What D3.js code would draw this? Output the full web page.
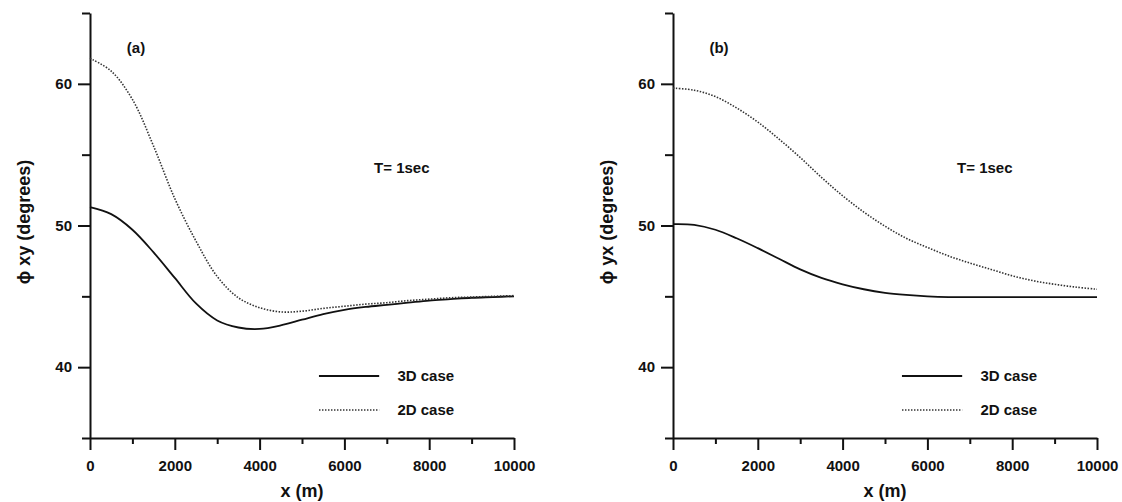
<!DOCTYPE html>
<html>
<head>
<meta charset="utf-8">
<script src="https://cdn.jsdelivr.net/npm/d3@7"></script>
<style>
  body { margin: 0; background: #fff; }
  text { font-family: "Liberation Sans", Arial, sans-serif; fill: #111; }
  .axis path, .axis line { stroke: #111; stroke-width: 2; }
  .axis text { font-size: 15px; font-weight: bold; }
</style>
</head>
<body>
<div id="chart"></div>
<script>
// distance along profile (m), both panels
var xDist = [0, 500, 1000, 1500, 2000, 2500, 3000, 3500, 4000, 4500, 5000, 5500, 6000, 6500, 7000, 7500, 8000, 8500, 9000, 9500, 10000];

// panel (a): phi xy
var phiXY3D = [51.3, 50.8, 49.7, 48.1, 46.3, 44.5, 43.3, 42.8, 42.7, 42.95, 43.35, 43.75, 44.05, 44.25, 44.4, 44.55, 44.7, 44.8, 44.9, 44.95, 45.0];
var phiXY2D = [61.8, 60.9, 58.9, 55.6, 51.9, 48.9, 46.4, 44.9, 44.2, 43.9, 43.95, 44.15, 44.3, 44.45, 44.55, 44.7, 44.8, 44.9, 44.95, 45.0, 45.05];

// panel (b): phi yx
var phiYX3D = [50.1, 50.05, 49.7, 49.1, 48.4, 47.65, 46.9, 46.3, 45.85, 45.5, 45.25, 45.1, 45.0, 44.95, 44.95, 44.95, 44.95, 44.95, 44.95, 44.95, 44.95];
var phiYX2D = [59.7, 59.55, 59.1, 58.3, 57.3, 56.1, 54.8, 53.4, 52.1, 50.95, 49.95, 49.1, 48.45, 47.85, 47.35, 46.9, 46.45, 46.1, 45.85, 45.65, 45.5];

var xTicks = [0, 2000, 4000, 6000, 8000, 10000];
var xMinor = [1000, 3000, 5000, 7000, 9000];
var yTicks = [40, 50, 60];
var yMinor = [35, 45, 55, 65];
var legendNames = ["3D case", "2D case"];

var svgWidth = 1122;
var svgHeight = 502;

var svg = d3.select("#chart")
    .append("svg")
    .attr("width", svgWidth)
    .attr("height", svgHeight);

var y = d3.scaleLinear()
    .domain([35, 65])
    .range([438, 13]);

function drawPanel(left, s3d, s2d, tag, yLabel) {
    var g = svg.append("g");
    var x = d3.scaleLinear()
        .domain([0, 10000])
        .range([left, left + 424]);
    var y0 = x(0);

    // minor ticks first
    g.append("g")
        .attr("class", "axis")
        .attr("transform", `translate(0, ${y(35)})`)
        .call(d3.axisBottom(x).tickValues(xMinor).tickSize(6).tickSizeOuter(0).tickFormat(""))
        .select(".domain").remove();
    g.append("g")
        .attr("class", "axis")
        .attr("transform", `translate(${y0}, 0)`)
        .call(d3.axisLeft(y).tickValues(yMinor).tickSize(8).tickSizeOuter(0).tickFormat(""))
        .select(".domain").remove();

    g.append("g")
        .attr("class", "axis")
        .attr("transform", `translate(0, ${y(35)})`)
        .call(d3.axisBottom(x).tickValues(xTicks).tickSize(12).tickSizeOuter(0).tickPadding(10).tickFormat(d3.format("d")));
    g.append("g")
        .attr("class", "axis")
        .attr("transform", `translate(${y0}, 0)`)
        .call(d3.axisLeft(y).tickValues(yTicks).tickSize(12).tickSizeOuter(0).tickPadding(6));

    var line = d3.line()
        .x(d => x(d[0]))
        .y(d => y(d[1]))
        .curve(d3.curveCatmullRom);

    g.append("path")
        .datum(xDist.map((v, i) => [v, s3d[i]]))
        .attr("d", line)
        .attr("fill", "none")
        .attr("stroke", "#111")
        .attr("stroke-width", 1.8);

    g.append("path")
        .datum(xDist.map((v, i) => [v, s2d[i]]))
        .attr("d", line)
        .attr("fill", "none")
        .attr("stroke", "#333")
        .attr("stroke-width", 1.6)
        .attr("stroke-dasharray", "1.5,1.5");

    g.append("text")
        .attr("x", y0 + 46)
        .attr("y", 53)
        .attr("text-anchor", "middle")
        .style("font-size", "15px")
        .style("font-weight", "bold")
        .text(tag);

    g.append("text")
        .attr("x", x(6700))
        .attr("y", 173)
        .style("font-size", "15px")
        .style("font-weight", "bold")
        .text("T= 1sec");

    // legend
    var ly = [376, 410];
    legendNames.forEach(function(name, i) {
        g.append("line")
            .attr("x1", x(5400))
            .attr("x2", x(6820))
            .attr("y1", ly[i])
            .attr("y2", ly[i])
            .attr("stroke", i == 0 ? "#111" : "#333")
            .attr("stroke-width", i == 0 ? 1.8 : 1.6)
            .attr("stroke-dasharray", i == 0 ? null : "1.5,1.5");
        g.append("text")
            .attr("x", x(7250))
            .attr("y", ly[i] + 5)
            .style("font-size", "15px")
            .style("font-weight", "bold")
            .text(name);
    });

    g.append("text")
        .attr("x", x(5000))
        .attr("y", 497)
        .attr("text-anchor", "middle")
        .style("font-size", "18px")
        .style("font-weight", "bold")
        .text("x (m)");

    g.append("text")
        .attr("transform", `translate(${left - 60}, 222) rotate(-90)`)
        .attr("text-anchor", "middle")
        .style("font-size", "18px")
        .style("font-weight", "bold")
        .text(yLabel);
}

drawPanel(90, phiXY3D, phiXY2D, "(a)", "ϕ xy (degrees)");
drawPanel(673, phiYX3D, phiYX2D, "(b)", "ϕ yx (degrees)");
</script>
</body>
</html>
